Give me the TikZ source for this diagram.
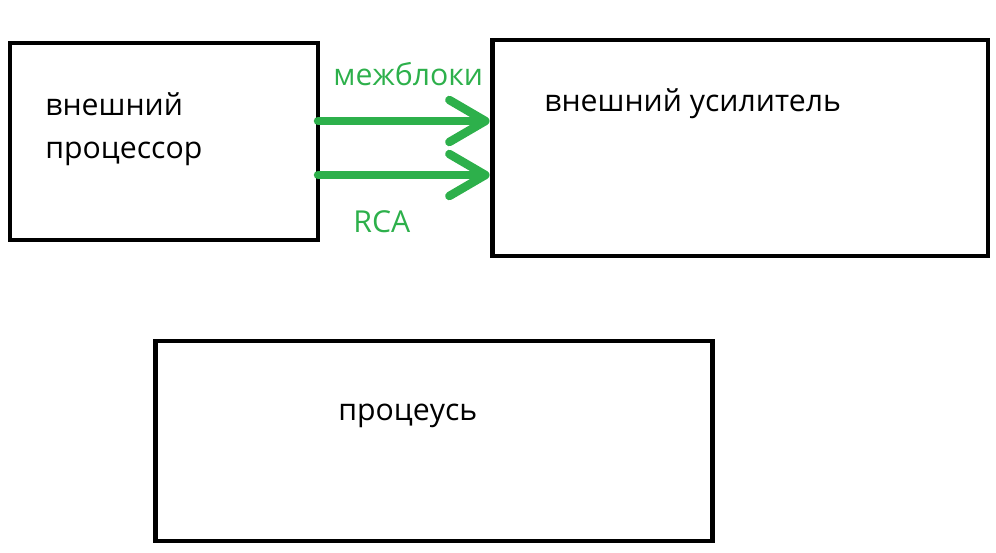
\documentclass[tikz,border=0pt]{standalone}
\usepackage{fontspec}
\setmainfont{Open Sans}
\usetikzlibrary{arrows.meta, positioning}
\definecolor{linkgreen}{HTML}{2DB04B}

\begin{document}
\begin{tikzpicture}[
    x=0.02cm, y=-0.02cm,
    box/.style={rectangle, draw, line width=2.8pt, inner sep=0pt},
    txt/.style={inner sep=0pt, anchor=base west, font=\fontsize{17.2}{24.4}\selectfont},
    gtxt/.style={txt, text=linkgreen},
    link/.style={-{Straight Barb[length=0.72cm, width=0.84cm, line cap=round, line join=round]}, line width=0.17cm, draw=linkgreen, line cap=round}
]
    \useasboundingbox (0,0) rectangle (996,552);

    % Boxes
    \node[box, minimum width=6.16cm, minimum height=3.94cm] (proc) at (164,141.5) {};
    \node[box, minimum width=9.92cm, minimum height=4.32cm] (amp) at (740,148) {};
    \node[box, minimum width=11.16cm, minimum height=4.0cm] (pu) at (434,441) {};

    % Texts
    \node[txt, align=left] (proctxt) at (45,158) {внешний\\процессор};
    \node[txt] (amptxt) at (544,111) {внешний усилитель};
    \node[txt] (putxt) at (338,420) {процеусь};

    % Arrows
    \coordinate (up) at (318,121);
    \coordinate (low) at (318,175);
    \draw[link] (up) -- (up -| amp.west);
    \draw[link] (low) -- (low -| amp.west);

    % Arrow labels
    \node[gtxt] (mb) at (333,85) {межблоки};
    \node[gtxt] (rca) at (353,232) {RCA};

\end{tikzpicture}
\end{document}
